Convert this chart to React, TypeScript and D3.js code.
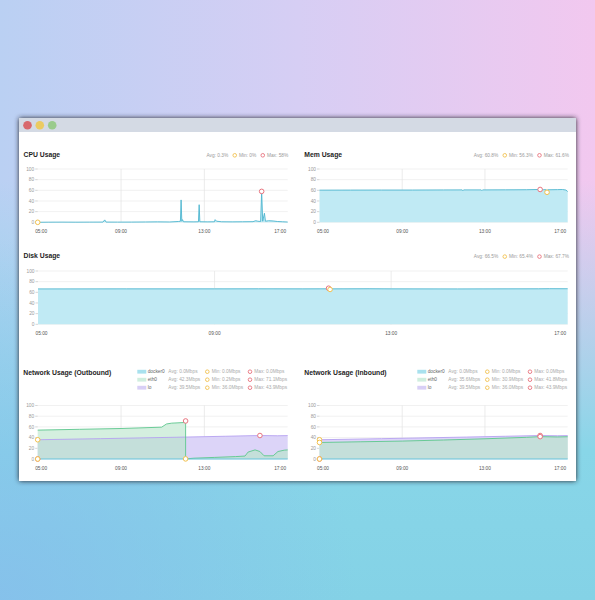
import React from 'react';
import * as d3 from 'd3';

const W = 595;
const H = 600;
const FONT = '"Liberation Sans", Arial, Helvetica, sans-serif';

const TIME_TICKS = ['05:00', '09:00', '13:00', '17:00'];
const PCT_TICKS = [0, 20, 40, 60, 80, 100];

// CPU usage (%)
const cpuTimes = ['05:00', '05:30', '06:10', '06:50', '07:30', '08:08', '08:13', '08:17', '08:50', '09:30', '10:10', '10:45', '11:20', '11:45', '11:51', '11:53', '11:55', '11:57', '12:00', '12:30', '12:43', '12:45', '12:47', '13:10', '13:29', '13:31', '13:35', '13:50', '14:20', '14:50', '15:20', '15:28', '15:34', '15:42', '15:45', '15:48', '15:53', '15:56', '16:05', '16:18', '16:30', '16:45', '17:00'];
const cpuValues = [0, 0.2, 0.3, 0.2, 0.3, 0.4, 4.5, 0.4, 0.3, 0.4, 0.6, 0.8, 0.6, 1.5, 2, 42, 2, 5, 1, 0.8, 1, 33, 1, 0.8, 1, 5, 2, 1, 0.8, 1, 1.2, 3, 2, 1.5, 58, 2, 17, 2, 3, 2.5, 1.5, 1, 0.5];
const cpuStats = ['Avg: 0.3%', 'Min: 0%', 'Max: 58%'];

// Memory usage (%)
const memTimes = ['05:00', '06:30', '08:00', '09:30', '11:00', '11:54', '11:56', '11:58', '12:49', '12:51', '12:53', '14:00', '15:00', '15:40', '15:50', '15:58', '16:00', '16:02', '16:30', '16:45', '16:55', '17:00'];
const memValues = [60.3, 60.4, 60.5, 60.5, 60.7, 60.8, 59.2, 60.8, 60.8, 59.5, 60.8, 60.9, 61.1, 61.6, 61.3, 61.0, 56.3, 61.0, 61.3, 61.5, 60.5, 57.5];
const memStats = ['Avg: 60.8%', 'Min: 56.3%', 'Max: 61.6%'];

// Disk usage (%)
const diskTimes = ['05:00', '07:00', '09:00', '10:00', '11:00', '11:33', '11:35', '11:37', '11:39', '12:30', '13:00', '14:30', '16:20', '16:35', '17:00'];
const diskValues = [66.4, 66.5, 66.5, 66.6, 66.5, 66.6, 67.7, 65.4, 66.5, 66.7, 66.5, 66.4, 66.6, 66.8, 66.7];
const diskStats = ['Avg: 66.5%', 'Min: 65.4%', 'Max: 67.7%'];

// Network (Mbps)
const netNames = ['docker0', 'eth0', 'lo'];
const dockerTimes = ['05:00', '17:00'];
const dockerValues = [0, 0];
const loTimes = ['05:00', '08:00', '12:06', '14:00', '15:40', '16:30', '17:00'];
const loValues = [36.0, 38.0, 41.0, 42.5, 43.9, 43.4, 43.7];

const outEth0Times = ['05:00', '07:00', '09:00', '10:57', '11:11', '11:26', '12:02', '12:06', '12:06', '12:30', '13:30', '14:30', '14:57', '15:06', '15:26', '15:40', '15:52', '16:18', '16:32', '16:50', '17:00'];
const outEth0Values = [54, 55.5, 57, 59.5, 65.5, 67, 68.2, 71.1, 0.2, 1.5, 3, 4.5, 5.5, 13, 17, 14, 6, 6, 14, 16.5, 17];
const outAvg = ['Avg: 0.0Mbps', 'Avg: 42.3Mbps', 'Avg: 39.5Mbps'];
const outMin = ['Min: 0.0Mbps', 'Min: 0.2Mbps', 'Min: 36.0Mbps'];
const outMax = ['Max: 0.0Mbps', 'Max: 71.1Mbps', 'Max: 43.9Mbps'];

const inEth0Times = ['05:00', '07:00', '09:00', '11:00', '13:00', '15:00', '15:40', '16:30', '17:00'];
const inEth0Values = [30.9, 32.2, 33.5, 35.5, 37.8, 40.5, 41.8, 41.2, 41.6];
const inAvg = ['Avg: 0.0Mbps', 'Avg: 35.6Mbps', 'Avg: 39.5Mbps'];
const inMin = ['Min: 0.0Mbps', 'Min: 30.9Mbps', 'Min: 36.0Mbps'];
const inMax = ['Max: 0.0Mbps', 'Max: 41.8Mbps', 'Max: 43.9Mbps'];

const parseHM = (s: string) => {
  const [h, m] = s.split(':').map(Number);
  return h + m / 60;
};

type Box = { left: number; right: number; top: number; bottom: number };
type Pt = { t: number; v: number };

const toPoints = (times: string[], values: number[]): Pt[] =>
  times.map((t, i) => ({ t: parseHM(t), v: values[i] }));

let ctx: CanvasRenderingContext2D | null = null;
const textWidth = (s: string, size: number, weight = 'normal') => {
  if (!ctx) ctx = document.createElement('canvas').getContext('2d');
  if (!ctx) return s.length * size * 0.55;
  ctx.font = `${weight} ${size}px "Liberation Sans", Arial, sans-serif`;
  return ctx.measureText(s).width;
};

const MAX_C = '#e8737e';
const MIN_C = '#f2c14e';

const scalesFor = (box: Box) => ({
  x: d3.scaleLinear().domain([5, 17]).range([box.left, box.right]),
  y: d3.scaleLinear().domain([0, 100]).range([box.bottom, box.top]),
});

const Axes: React.FC<{ box: Box }> = ({ box }) => {
  const { x, y } = scalesFor(box);
  return (
    <g fontFamily={FONT}>
      {PCT_TICKS.map(t => (
        <g key={t}>
          <line x1={box.left} x2={box.right} y1={y(t)} y2={y(t)} stroke="#ebebeb" strokeWidth={0.7} />
          <line x1={box.left - 2.5} x2={box.left} y1={y(t)} y2={y(t)} stroke="#bbb" strokeWidth={0.6} />
          <text x={box.left - 3.5} y={y(t)} dy="0.35em" textAnchor="end" fontSize={4.8} fill="#999">{t}</text>
        </g>
      ))}
      {TIME_TICKS.slice(1, -1).map(t => (
        <line key={t} x1={x(parseHM(t))} x2={x(parseHM(t))} y1={box.top} y2={box.bottom} stroke="#e2e2e2" strokeWidth={0.7} />
      ))}
      {TIME_TICKS.map((t, i) => {
        const last = i === TIME_TICKS.length - 1;
        const px = i === 0 ? box.left - 2.5 : last ? box.right - 1.5 : x(parseHM(t));
        return (
          <text key={t} x={px} y={box.bottom + 11} textAnchor={i === 0 ? 'start' : last ? 'end' : 'middle'} fontSize={4.8} fill="#555">{t}</text>
        );
      })}
    </g>
  );
};

const Marker: React.FC<{ cx: number; cy: number; color: string }> = ({ cx, cy, color }) => (
  <circle cx={cx} cy={cy} r={2.3} fill="#fff" stroke={color} strokeWidth={1} />
);

const MinMax: React.FC<{ box: Box; pts: Pt[] }> = ({ box, pts }) => {
  const { x, y } = scalesFor(box);
  const mx = pts[d3.maxIndex(pts, d => d.v)];
  const mn = pts[d3.minIndex(pts, d => d.v)];
  return (
    <g>
      <Marker cx={x(mx.t)} cy={y(mx.v)} color={MAX_C} />
      <Marker cx={x(mn.t)} cy={y(mn.v)} color={MIN_C} />
    </g>
  );
};

// right-aligned "Avg  o Min  o Max" row
const StatsRow: React.FC<{ right: number; y: number; stats: string[] }> = ({ right, y, stats }) => {
  const fs = 4.8;
  const items: React.ReactNode[] = [];
  let cur = right;
  for (let i = stats.length - 1; i >= 0; i--) {
    const w = textWidth(stats[i], fs);
    items.push(<text key={'t' + i} x={cur} y={y} textAnchor="end" fontSize={fs} fill="#9a9a9a">{stats[i]}</text>);
    cur -= w;
    if (i > 0) {
      const cx = cur - 4.2;
      items.push(<circle key={'c' + i} cx={cx} cy={y - 1.7} r={1.8} fill="#fff" stroke={i === 2 ? MAX_C : MIN_C} strokeWidth={0.9} />);
      cur = cx - 6.5;
    }
  }
  return <g fontFamily={FONT}>{items}</g>;
};

const Title: React.FC<{ x: number; y: number; text: string }> = ({ x, y, text }) => (
  <text x={x} y={y} fontFamily={FONT} fontSize={6.8} fontWeight="bold" fill="#1e1e1e">{text}</text>
);

const SimplePanel: React.FC<{
  title: string; titleX: number; titleY: number; stats: string[]; statsRight: number;
  box: Box; times: string[]; values: number[];
}> = ({ title, titleX, titleY, stats, statsRight, box, times, values }) => {
  const pts = toPoints(times, values);
  const { x, y } = scalesFor(box);
  const area = d3.area<Pt>().x(d => x(d.t)).y0(y(0)).y1(d => y(d.v));
  const line = d3.line<Pt>().x(d => x(d.t)).y(d => y(d.v));
  return (
    <g>
      <Title x={titleX} y={titleY} text={title} />
      <StatsRow right={statsRight} y={titleY} stats={stats} />
      <Axes box={box} />
      <path d={area(pts) || ''} fill="#c0eaf4" />
      <path d={line(pts) || ''} fill="none" stroke="#4db5cf" strokeWidth={0.9} />
      <MinMax box={box} pts={pts} />
    </g>
  );
};

const NetPanel: React.FC<{
  id: string; title: string; titleX: number; titleY: number; legendX: number;
  avg: string[]; min: string[]; max: string[]; box: Box;
  eth0Times: string[]; eth0Values: number[];
}> = ({ id, title, titleX, titleY, legendX, avg, min, max, box, eth0Times, eth0Values }) => {
  const { x, y } = scalesFor(box);
  const docker = toPoints(dockerTimes, dockerValues);
  const eth0 = toPoints(eth0Times, eth0Values);
  const lo = toPoints(loTimes, loValues);
  const area = d3.area<Pt>().x(d => x(d.t)).y0(y(0)).y1(d => y(d.v));
  const line = d3.line<Pt>().x(d => x(d.t)).y(d => y(d.v));
  const swatch = ['#a9e1ee', '#d0eedf', '#d8cff6'];
  const rowY = [371.7, 379.7, 387.7];
  const fs = 4.8;
  return (
    <g>
      <Title x={titleX} y={titleY} text={title} />
      <g fontFamily={FONT}>
        {netNames.map((n, i) => (
          <g key={n}>
            <rect x={legendX} y={rowY[i] - 1.9} width={9} height={3.8} fill={swatch[i]} />
            <text x={legendX + 10.4} y={rowY[i] + 1.7} fontSize={fs} fill="#666">{n}</text>
            <text x={legendX + 31} y={rowY[i] + 1.7} fontSize={fs} fill="#aaa">{avg[i]}</text>
            <circle cx={legendX + 70} cy={rowY[i]} r={1.8} fill="#fff" stroke={MIN_C} strokeWidth={0.9} />
            <text x={legendX + 74.4} y={rowY[i] + 1.7} fontSize={fs} fill="#aaa">{min[i]}</text>
            <circle cx={legendX + 112.7} cy={rowY[i]} r={1.8} fill="#fff" stroke={MAX_C} strokeWidth={0.9} />
            <text x={legendX + 117} y={rowY[i] + 1.7} fontSize={fs} fill="#aaa">{max[i]}</text>
          </g>
        ))}
      </g>
      <Axes box={box} />
      <defs>
        <clipPath id={`clip-${id}-eth0`}>
          <path d={area(eth0) || ''} />
        </clipPath>
      </defs>
      <path d={area(docker) || ''} fill="#a9e1ee" />
      <path d={area(lo) || ''} fill="#dcd4f8" />
      <path d={area(eth0) || ''} fill="#d4efdf" />
      <path d={area(lo) || ''} fill="#c4dfda" clipPath={`url(#clip-${id}-eth0)`} />
      <path d={line(lo) || ''} fill="none" stroke="#b6a1f0" strokeWidth={0.9} />
      <path d={line(eth0) || ''} fill="none" stroke="#5cc68d" strokeWidth={0.9} />
      <path d={line(docker) || ''} fill="none" stroke="#5bc0de" strokeWidth={0.9} />
      <MinMax box={box} pts={lo} />
      <MinMax box={box} pts={eth0} />
      <MinMax box={box} pts={docker} />
    </g>
  );
};

export default function App() {
  const cpuBox = { left: 37.7, right: 287.7, top: 169, bottom: 222.3 };
  const memBox = { left: 319.5, right: 567.7, top: 169, bottom: 222.3 };
  const diskBox = { left: 38, right: 567.7, top: 271, bottom: 324.3 };
  const outBox = { left: 37.7, right: 287.7, top: 405.5, bottom: 459 };
  const inBox = { left: 319.5, right: 567.7, top: 405.5, bottom: 459 };
  return (
    <div style={{ position: 'absolute', left: 0, top: 0 }}>
      <svg width={W} height={H} style={{ display: 'block' }}>
        <defs>
          <linearGradient id="bg-h" x1="0" y1="0" x2="1" y2="0">
            <stop offset="0" stopColor="#bad0f3" />
            <stop offset="0.5" stopColor="#d6cef4" />
            <stop offset="1" stopColor="#f2c8ef" />
          </linearGradient>
          <linearGradient id="bg-v" x1="0" y1="0" x2="0" y2="1">
            <stop offset="0.3" stopColor="#8cd6e8" stopOpacity="0" />
            <stop offset="0.75" stopColor="#88d6e8" stopOpacity="1" />
            <stop offset="1" stopColor="#84d2e6" stopOpacity="1" />
          </linearGradient>
          <radialGradient id="bg-bl" cx="0" cy="1" r="0.6">
            <stop offset="0" stopColor="#86bdec" stopOpacity="0.8" />
            <stop offset="1" stopColor="#86bdec" stopOpacity="0" />
          </radialGradient>
          <filter id="win-shadow" x="-5%" y="-5%" width="110%" height="110%">
            <feDropShadow dx="0" dy="0" stdDeviation="2.6" floodColor="#262630" floodOpacity="1" />
          </filter>
        </defs>
        <rect width={W} height={H} fill="url(#bg-h)" />
        <rect width={W} height={H} fill="url(#bg-v)" />
        <rect width={W} height={H} fill="url(#bg-bl)" />

        <rect x={19} y={118} width={557} height={363} fill="#fff" filter="url(#win-shadow)" />
        <rect x={19} y={118} width={557} height={14} fill="#d4dae4" />
        <circle cx={27.5} cy={125.2} r={4.3} fill="#d8686c" />
        <circle cx={39.8} cy={125.2} r={4.3} fill="#ebcb62" />
        <circle cx={52.2} cy={125.2} r={4.3} fill="#9acb8c" />

        <SimplePanel title="CPU Usage" titleX={23.5} titleY={157} stats={cpuStats} statsRight={288.3} box={cpuBox} times={cpuTimes} values={cpuValues} />
        <SimplePanel title="Mem Usage" titleX={304.3} titleY={157} stats={memStats} statsRight={569} box={memBox} times={memTimes} values={memValues} />
        <SimplePanel title="Disk Usage" titleX={23.5} titleY={258.3} stats={diskStats} statsRight={569} box={diskBox} times={diskTimes} values={diskValues} />
        <NetPanel id="out" title="Network Usage (Outbound)" titleX={23.3} titleY={374.8} legendX={137.3}
          avg={outAvg} min={outMin} max={outMax} box={outBox} eth0Times={outEth0Times} eth0Values={outEth0Values} />
        <NetPanel id="in" title="Network Usage (Inbound)" titleX={304.3} titleY={374.8} legendX={417.3}
          avg={inAvg} min={inMin} max={inMax} box={inBox} eth0Times={inEth0Times} eth0Values={inEth0Values} />
      </svg>
    </div>
  );
}
